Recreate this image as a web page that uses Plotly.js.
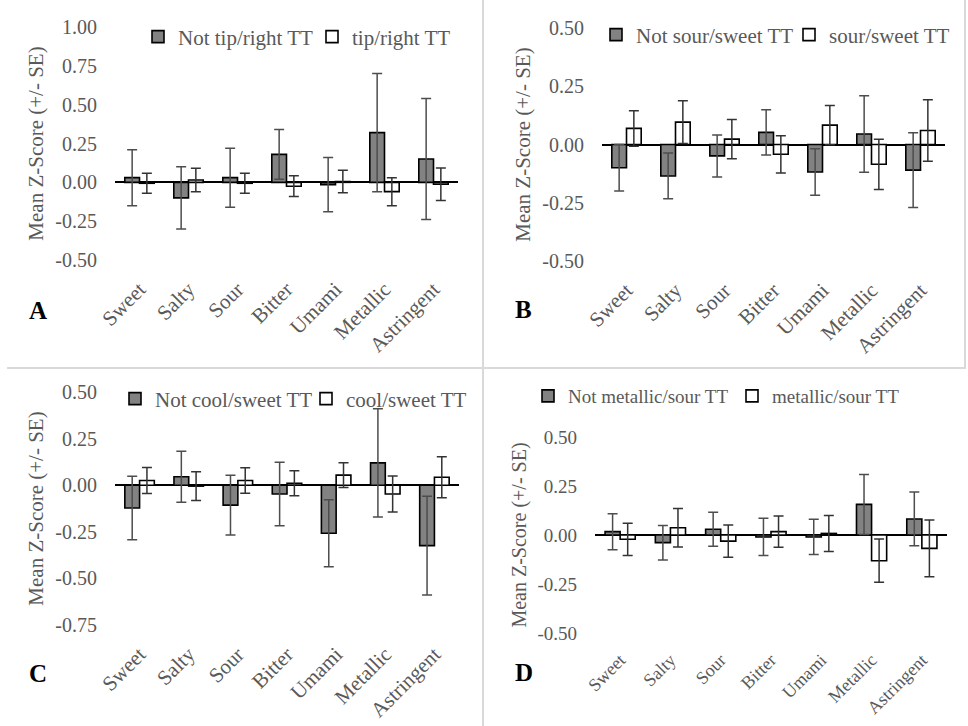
<!DOCTYPE html>
<html>
<head>
<meta charset="utf-8">
<script src="https://cdn.plot.ly/plotly-3.0.1.min.js"></script>
<style>html,body{margin:0;padding:0;background:#fff;}#chart{width:968px;height:726px;}</style>
</head>
<body>
<div id="chart"></div>
<script>
// ---------- data ----------
var categories = ['Sweet', 'Salty', 'Sour', 'Bitter', 'Umami', 'Metallic', 'Astringent'];

// Panel A
var notTipRight   = [0.03, -0.10, 0.03, 0.18, -0.015, 0.32, 0.15];
var notTipRightSE = [0.18, 0.20, 0.19, 0.16, 0.175, 0.38, 0.39];
var tipRight      = [-0.006, 0.015, -0.006, -0.025, 0.005, -0.06, -0.012];
var tipRightSE    = [0.065, 0.075, 0.065, 0.067, 0.072, 0.09, 0.105];

// Panel B
var notSourSweet   = [-0.10, -0.135, -0.049, 0.052, -0.118, 0.045, -0.11];
var notSourSweetSE = [0.10, 0.098, 0.09, 0.097, 0.10, 0.164, 0.16];
var sourSweet      = [0.069, 0.096, 0.023, -0.042, 0.083, -0.085, 0.06];
var sourSweetSE    = [0.076, 0.092, 0.084, 0.08, 0.084, 0.108, 0.132];

// Panel C
var notCoolSweet   = [-0.122, 0.045, -0.107, -0.047, -0.258, 0.12, -0.324];
var notCoolSweetSE = [0.17, 0.137, 0.16, 0.17, 0.18, 0.29, 0.265];
var coolSweet      = [0.025, -0.005, 0.025, 0.01, 0.054, -0.047, 0.043];
var coolSweetSE    = [0.07, 0.077, 0.068, 0.067, 0.067, 0.097, 0.11];

// Panel D
var notMetallicSour   = [0.017, -0.039, 0.029, -0.01, -0.01, 0.156, 0.082];
var notMetallicSourSE = [0.092, 0.088, 0.087, 0.095, 0.09, 0.153, 0.137];
var metallicSour      = [-0.022, 0.037, -0.031, 0.017, 0.008, -0.131, -0.068];
var metallicSourSE    = [0.082, 0.098, 0.082, 0.08, 0.092, 0.11, 0.145];

// tick labels
var yTickValsA = [-0.5, -0.25, 0, 0.25, 0.5, 0.75, 1.0];
var yTickTextA = ['-0.50', '-0.25', '0.00', '0.25', '0.50', '0.75', '1.00'];
var yTickValsB = [-0.5, -0.25, 0, 0.25, 0.5];
var yTickTextB = ['-0.50', '-0.25', '0.00', '0.25', '0.50'];
var yTickValsC = [-0.75, -0.5, -0.25, 0, 0.25, 0.5];
var yTickTextC = ['-0.75', '-0.50', '-0.25', '0.00', '0.25', '0.50'];
var yTickValsD = [-0.5, -0.25, 0, 0.25, 0.5];
var yTickTextD = ['-0.50', '-0.25', '0.00', '0.25', '0.50'];

var legendNames = [
  ['Not tip/right TT', 'tip/right TT'],
  ['Not sour/sweet TT', 'sour/sweet TT'],
  ['Not cool/sweet TT', 'cool/sweet TT'],
  ['Not metallic/sour TT', 'metallic/sour TT']
];
var panelLetters = ['A', 'B', 'C', 'D'];

// ---------- layout helpers ----------
var W = 968, H = 726;
var FONT = 'Liberation Serif';
var GRAY_TXT = '#595959';
function xd(a, b) { return [a / W, b / W]; }
function yd(top, bottom) { return [1 - bottom / H, 1 - top / H]; }

function barTrace(y, se, name, fill, xa, ya, leg, errColor) {
  return {
    type: 'bar', x: categories, y: y, name: name,
    xaxis: xa, yaxis: ya, legend: leg,
    marker: {color: fill, line: {color: '#000000', width: 1.6}},
    error_y: {type: 'data', array: se, visible: true, color: errColor, thickness: 1.5, width: 5},
    hoverinfo: 'none'
  };
}

var fillGray = '#828282', fillWhite = '#ffffff';
var traces = [
  barTrace(notTipRight, notTipRightSE, legendNames[0][0], fillGray, 'x', 'y', 'legend', '#4d4d4d'),
  barTrace(tipRight, tipRightSE, legendNames[0][1], fillWhite, 'x', 'y', 'legend', '#333333'),
  barTrace(notSourSweet, notSourSweetSE, legendNames[1][0], fillGray, 'x2', 'y2', 'legend2', '#4d4d4d'),
  barTrace(sourSweet, sourSweetSE, legendNames[1][1], fillWhite, 'x2', 'y2', 'legend2', '#333333'),
  barTrace(notCoolSweet, notCoolSweetSE, legendNames[2][0], fillGray, 'x3', 'y3', 'legend3', '#4d4d4d'),
  barTrace(coolSweet, coolSweetSE, legendNames[2][1], fillWhite, 'x3', 'y3', 'legend3', '#333333'),
  barTrace(notMetallicSour, notMetallicSourSE, legendNames[3][0], fillGray, 'x4', 'y4', 'legend4', '#4d4d4d'),
  barTrace(metallicSour, metallicSourSE, legendNames[3][1], fillWhite, 'x4', 'y4', 'legend4', '#333333')
];

function xAxis(dom, anchor, fs) {
  return {
    domain: dom, anchor: anchor, type: 'category',
    showgrid: false, zeroline: false, showline: false, ticks: '',
    tickangle: -45, ticklabelstandoff: 12,
    tickfont: {family: FONT, size: fs, color: GRAY_TXT},
    automargin: false, fixedrange: true
  };
}
function yAxis(dom, anchor, range, vals, text, fs) {
  return {
    domain: dom, anchor: anchor, range: range,
    tickmode: 'array', tickvals: vals, ticktext: text,
    showgrid: false, showline: false, ticks: '',
    zeroline: true, zerolinecolor: '#000000', zerolinewidth: 2,
    ticklabelstandoff: 17,
    tickfont: {family: FONT, size: fs, color: GRAY_TXT},
    title: {text: 'Mean Z-Score (+/- SE)', font: {family: FONT, size: fs + 1, color: GRAY_TXT}, standoff: 5},
    automargin: false, fixedrange: true
  };
}
function legendCfg(xpx, ypx, fs, ew) {
  return {
    x: xpx / W, y: 1 - ypx / H, xanchor: 'left', yanchor: 'middle',
    orientation: 'h', bgcolor: 'rgba(0,0,0,0)',
    font: {family: FONT, size: fs, color: GRAY_TXT},
    itemwidth: 30, entrywidth: ew, entrywidthmode: 'pixels',
    tracegroupgap: 0, itemclick: false, itemdoubleclick: false
  };
}

var layout = {
  width: W, height: H,
  margin: {l: 0, r: 0, t: 0, b: 0, autoexpand: false},
  paper_bgcolor: '#ffffff', plot_bgcolor: 'rgba(0,0,0,0)',
  barmode: 'group', bargap: 0.4, bargroupgap: 0,
  showlegend: true,
  font: {family: FONT, color: GRAY_TXT},
  xaxis:  xAxis(xd(115, 458), 'y', 21),
  yaxis:  yAxis(yd(27, 260), 'x', [-0.5, 1.0], yTickValsA, yTickTextA, 20),
  xaxis2: xAxis(xd(602, 945), 'y2', 21),
  yaxis2: yAxis(yd(28, 261), 'x2', [-0.5, 0.5], yTickValsB, yTickTextB, 20),
  xaxis3: xAxis(xd(115, 459), 'y3', 21),
  yaxis3: yAxis(yd(392, 625), 'x3', [-0.75, 0.5], yTickValsC, yTickTextC, 20),
  xaxis4: xAxis(xd(595, 947), 'y4', 18),
  yaxis4: yAxis(yd(437, 633), 'x4', [-0.5, 0.5], yTickValsD, yTickTextD, 19),
  legend:  legendCfg(138, 37, 21, 129),
  legend2: legendCfg(596, 35, 21, 148),
  legend3: legendCfg(115, 399, 21, 146),
  legend4: legendCfg(528, 396, 19, 159),
  shapes: [
    {type: 'line', xref: 'paper', yref: 'paper', x0: 483 / W, x1: 483 / W, y0: 0, y1: 1, line: {color: '#d9d9d9', width: 2}},
    {type: 'line', xref: 'paper', yref: 'paper', x0: 7 / W, x1: 966 / W, y0: 1 - 368 / H, y1: 1 - 368 / H, line: {color: '#d9d9d9', width: 2}},
    {type: 'line', xref: 'paper', yref: 'paper', x0: 965 / W, x1: 965 / W, y0: 1 - 368 / H, y1: 1, line: {color: '#d9d9d9', width: 2}}
  ],
  annotations: [
    {text: '<b>' + panelLetters[0] + '</b>', x: 38 / W, y: 1 - 311 / H},
    {text: '<b>' + panelLetters[1] + '</b>', x: 523 / W, y: 1 - 309 / H},
    {text: '<b>' + panelLetters[2] + '</b>', x: 38 / W, y: 1 - 673 / H},
    {text: '<b>' + panelLetters[3] + '</b>', x: 524 / W, y: 1 - 672 / H}
  ].map(function (a) {
    a.xref = 'paper'; a.yref = 'paper'; a.showarrow = false;
    a.xanchor = 'center'; a.yanchor = 'middle';
    a.font = {family: FONT, size: 25, color: '#000000'};
    return a;
  })
};

Plotly.newPlot('chart', traces, layout, {staticPlot: true, displayModeBar: false});
</script>
</body>
</html>
